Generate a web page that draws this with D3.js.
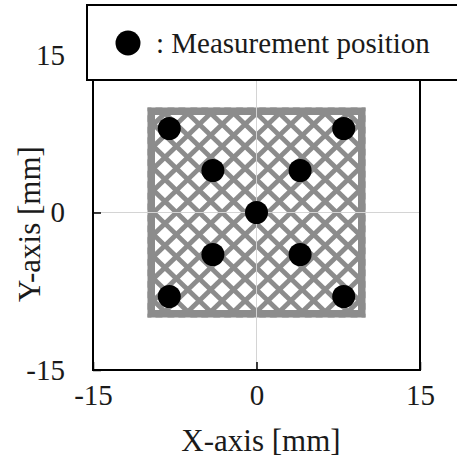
<!DOCTYPE html>
<html>
<head>
<meta charset="utf-8">
<script src="https://cdn.jsdelivr.net/npm/d3@7"></script>
<style>
  body { margin: 0; background: #fff; }
  text { font-family: "Liberation Serif", "Times New Roman", serif; fill: #1a1a1a; }
</style>
</head>
<body>
<svg id="chart" width="457" height="459"></svg>
<script>
// axis ticks
var xTicks = [-15, 0, 15]
var yTicks = [-15, 0, 15]

// scan area corners [mm]
var scanX = [-10, 10]
var scanY = [-10, 10]

// diagonal scan lines, offsets [mm]
// lines of form x - y = c
var diagUp = [-19.95, -17.85, -15.75, -13.65, -11.55, -9.45, -7.35, -5.25, -3.15, -1.05,
              1.05, 3.15, 5.25, 7.35, 9.45, 11.55, 13.65, 15.75, 17.85, 19.95]
// lines of form x + y = c
var diagDown = [-19.95, -17.85, -15.75, -13.65, -11.55, -9.45, -7.35, -5.25, -3.15, -1.05,
                1.05, 3.15, 5.25, 7.35, 9.45, 11.55, 13.65, 15.75, 17.85, 19.95]

// measurement positions [mm]
var measX = [-8, 8, -4, 4, 0, -4, 4, -8, 8]
var measY = [8, 8, 4, 4, 0, -4, -4, -8, -8]

var legendLabel = ": Measurement position"

var svg = d3.select('#chart')

var x = d3.scaleLinear().domain([-15, 15]).range([93, 420])
var y = d3.scaleLinear().domain([-15, 15]).range([370, 55])

var gray = '#8c8c8c'

// clip for the scan pattern
svg.append('clipPath')
    .attr('id', 'scanclip')
  .append('rect')
    .attr('x', x(scanX[0]))
    .attr('y', y(scanY[1]))
    .attr('width', x(scanX[1]) - x(scanX[0]))
    .attr('height', y(scanY[0]) - y(scanY[1]))

var scan = svg.append('g').attr('clip-path', 'url(#scanclip)')

// pattern lines
var line = d3.line()
    .x(function(d) { return x(d[0]) })
    .y(function(d) { return y(d[1]) })

scan.selectAll('path.up')
    .data(diagUp)
    .join('path')
    .attr('class', 'up')
    .attr('d', function(c) { return line([[-20, -20 - c], [20, 20 - c]]) })
    .attr('stroke', gray)
    .attr('stroke-width', 4.8)
    .attr('fill', 'none')

scan.selectAll('path.down')
    .data(diagDown)
    .join('path')
    .attr('class', 'down')
    .attr('d', function(c) { return line([[-20, c + 20], [20, c - 20]]) })
    .attr('stroke', gray)
    .attr('stroke-width', 4.8)
    .attr('fill', 'none')

// solid band round the scan area
scan.append('rect')
    .attr('x', x(scanX[0]))
    .attr('y', y(scanY[1]))
    .attr('width', x(scanX[1]) - x(scanX[0]))
    .attr('height', y(scanY[0]) - y(scanY[1]))
    .attr('fill', 'none')
    .attr('stroke', gray)
    .attr('stroke-width', 15)

// grid lines at zero
svg.append('line')
    .attr('x1', x(0)).attr('x2', x(0))
    .attr('y1', y(15)).attr('y2', y(-15))
    .attr('stroke', '#d4d4d4')
    .attr('stroke-width', 1)

svg.append('line')
    .attr('x1', x(-15)).attr('x2', x(15))
    .attr('y1', y(0)).attr('y2', y(0))
    .attr('stroke', '#d4d4d4')
    .attr('stroke-width', 1)

// measurement dots
svg.selectAll('circle.meas')
    .data(measX.map(function(v, i) { return [v, measY[i]] }))
    .join('circle')
    .attr('class', 'meas')
    .attr('cx', function(d) { return x(d[0]) })
    .attr('cy', function(d) { return y(d[1]) })
    .attr('r', 11.5)
    .attr('fill', '#000')

// axes, ticks pointing inward, plain hyphen minus
var fmt = function(d) { return String(d) }

svg.append('g')
    .attr('transform', 'translate(0,' + y(-15) + ')')
    .call(d3.axisBottom(x).tickValues(xTicks).tickFormat(fmt).tickSizeInner(-8).tickSizeOuter(0).tickPadding(14))
    .call(function(g) {
        g.select('.domain').remove()
        g.selectAll('line').attr('stroke', '#000').attr('stroke-width', 1.5)
        g.selectAll('text').style('font-size', '29px')
            .style('font-family', '"Liberation Serif", serif').attr('fill', '#1a1a1a')
    })

svg.append('g')
    .attr('transform', 'translate(' + x(-15) + ',0)')
    .call(d3.axisLeft(y).tickValues(yTicks).tickFormat(fmt).tickSizeInner(-8).tickSizeOuter(0).tickPadding(28))
    .call(function(g) {
        g.select('.domain').remove()
        g.selectAll('line').attr('stroke', '#000').attr('stroke-width', 1.5)
        g.selectAll('text').style('font-size', '29px')
            .style('font-family', '"Liberation Serif", serif').attr('fill', '#1a1a1a')
    })

// plot frame
svg.append('rect')
    .attr('x', x(-15))
    .attr('y', y(15))
    .attr('width', x(15) - x(-15))
    .attr('height', y(-15) - y(15))
    .attr('fill', 'none')
    .attr('stroke', '#000')
    .attr('stroke-width', 2)

// axis titles
svg.append('text')
    .text('X-axis [mm]')
    .attr('x', 261)
    .attr('y', 451)
    .attr('text-anchor', 'middle')
    .style('font-size', '31px')

svg.append('text')
    .text('Y-axis [mm]')
    .attr('transform', 'translate(40,224) rotate(-90)')
    .attr('text-anchor', 'middle')
    .style('font-size', '31px')

// legend box
svg.append('rect')
    .attr('x', 87)
    .attr('y', 5)
    .attr('width', 400)
    .attr('height', 75)
    .attr('fill', '#fff')
    .attr('stroke', '#000')
    .attr('stroke-width', 2)

svg.append('circle')
    .attr('cx', 128)
    .attr('cy', 43)
    .attr('r', 12.5)
    .attr('fill', '#000')

svg.append('text')
    .text(legendLabel)
    .attr('x', 156)
    .attr('y', 53)
    .style('font-size', '29px')
</script>
</body>
</html>
